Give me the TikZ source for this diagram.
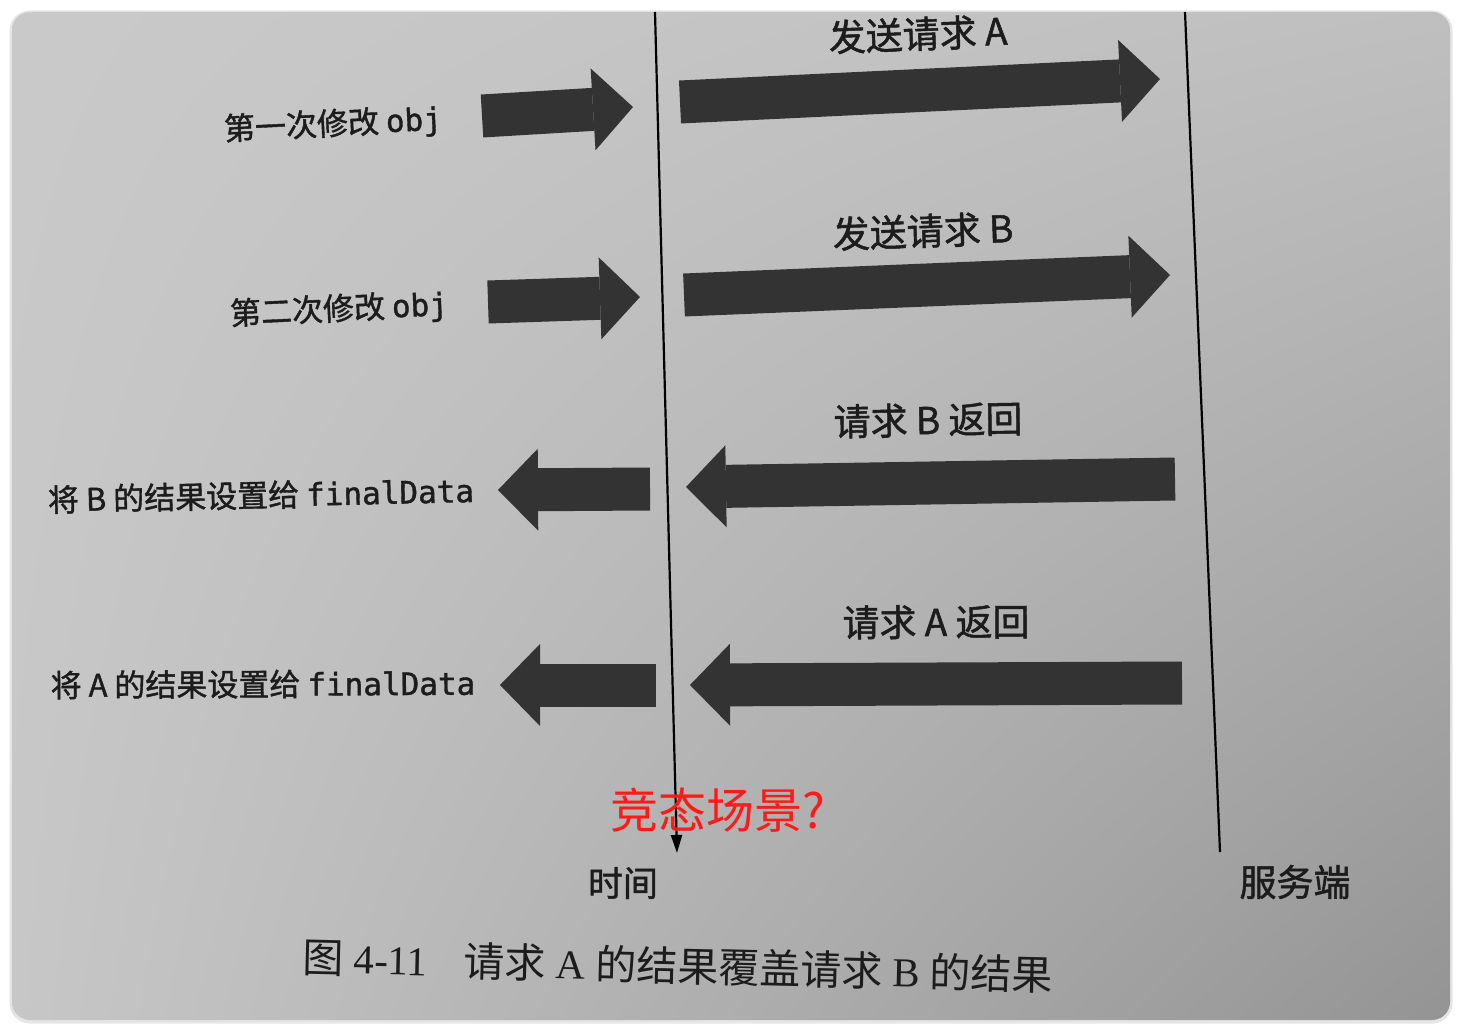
\documentclass[tikz,border=0pt]{standalone}
\usepackage{fontspec}
\setmainfont{Liberation Serif}
\newfontfamily\cjk{Noto Sans CJK SC}[UprightFeatures={FakeBold=1.3}]
\newfontfamily\cjkc{Noto Sans CJK SC}
\newfontfamily\code{DejaVu Sans Mono}[UprightFeatures={FakeBold=1.2}]
\usetikzlibrary{arrows.meta,shadings}

\definecolor{ink}{HTML}{333333}
\definecolor{txt}{HTML}{1C1C1C}
\definecolor{warn}{HTML}{FF1A1A}

\tikzset{
  fatarrow/.style={draw=ink, line width=43pt,
    -{Triangle[length=40pt 0 0, width=82pt 0 0, line width=0pt 0 0]}},
  lbl/.style={text=txt, inner sep=0pt, font=\cjk\fontsize{31}{31}\selectfont},
  head/.style={text=txt, inner sep=0pt, font=\cjk\fontsize{37}{37}\selectfont},
}

\begin{document}
\begin{tikzpicture}[x=1pt,y=-1pt]
  \useasboundingbox (0,0) rectangle (1462,1032);
  \fill[white] (0,0) rectangle (1462,1032);

  % paper
  \draw[black!10, line width=5pt, rounded corners=18pt] (12,13) rectangle (1450,1021);
  \shade[rounded corners=18pt, upper left=black!21, upper right=black!25,
    lower left=black!22, lower right=black!42] (12,12) rectangle (1450,1020);

  % time axis and server line
  \coordinate (t0) at (655,12);
  \coordinate (t1) at (677,853);
  \draw[line width=2.2pt, -{Triangle[length=18pt 0 0, width=11pt 0 0]}] (t0) -- (t1);
  \coordinate (s0) at (1185,12);
  \coordinate (s1) at (1220,852);
  \draw[line width=2.2pt] (s0) -- (s1);

  % block arrows
  \foreach \nm/\sx/\sy/\ex/\ey in {m1/482/116/633/107, reqa/680/102/1160/79,
      m2/488/302/640/297, reqb/684/295/1170/275,
      retb/1175/479/686/487, setb/650/489/498/490,
      reta/1182/683/690/685, seta/656/685/500/685}{
    \coordinate (\nm-s) at (\sx,\sy);
    \coordinate (\nm-e) at (\ex,\ey);
    \draw[fatarrow] (\nm-s) -- (\nm-e);
  }

  % labels
  \node[lbl, rotate=2.8] (m1-l) at (333,125) {第一次修改 {\code obj}};
  \node[lbl, rotate=2.6] (m2-l) at (339,310) {第二次修改 {\code obj}};
  \node[lbl, rotate=1.3] (setb-l) at (261,495) {将 B 的结果设置给 {\code finalData}};
  \node[lbl, rotate=0.3] (seta-l) at (263,684) {将 A 的结果设置给 {\code finalData}};

  \node[head, rotate=2.2] (reqa-l) at (918,34) {发送请求 A};
  \node[head, rotate=2.0] (reqb-l) at (923,231) {发送请求 B};
  \node[head, rotate=1.0] (retb-l) at (928,420) {请求 B 返回};
  \node[head, rotate=0.3] (reta-l) at (936,622) {请求 A 返回};

  \node[text=warn, inner sep=0pt, font=\cjkc\fontsize{48}{48}\selectfont] (race) at (718,810) {竞态场景?};
  \node[head, font=\cjk\fontsize{35}{35}\selectfont] (time) at (623,883) {时间};
  \node[head] (server) at (1295,882) {服务端};

  \node[text=txt, inner sep=0pt, rotate=-1.4, font=\fontsize{41}{41}\selectfont] (cap) at (678,966)
    {{\cjkc 图} 4-11\hspace{36pt}{\cjkc 请求} A {\cjkc 的结果覆盖请求} B {\cjkc 的结果}};
\end{tikzpicture}
\end{document}
